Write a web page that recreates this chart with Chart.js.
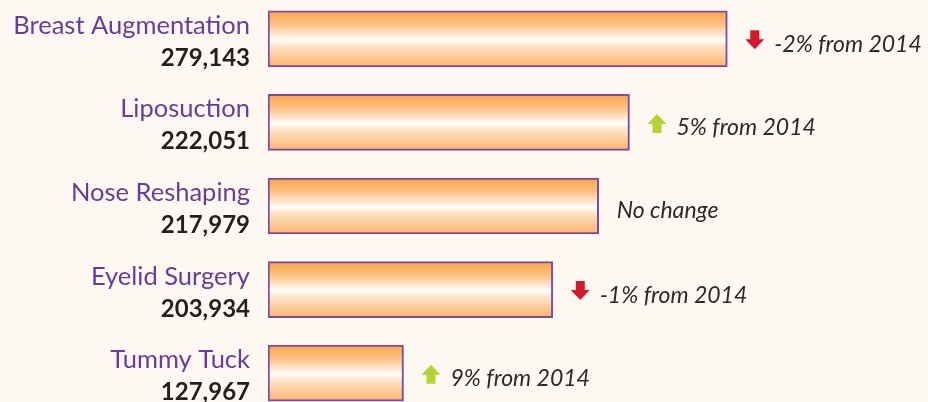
<!DOCTYPE html>
<html>
<head>
<meta charset="utf-8">
<script src="https://cdn.jsdelivr.net/npm/chart.js@4"></script>
<style>
  html, body { margin:0; padding:0; background:#fdf9f2; overflow:hidden; width:928px; height:402px; }
  #wrap { position:absolute; left:0; top:-3px; width:928px; height:418px; }
</style>
</head>
<body>
<div id="wrap"><canvas id="c" width="928" height="418"></canvas></div>
<script>
// ---- data ----
const categories = ['Breast Augmentation', 'Liposuction', 'Nose Reshaping', 'Eyelid Surgery', 'Tummy Tuck'];
const procedureCounts = [279143, 222051, 217979, 203934, 127967];
// bar lengths as drawn in the infographic (relative units, longest = 100)
const barLengths = [100, 78.7, 72.0, 62.0, 29.5];
// percent change from 2014
const changeFrom2014 = [-2, 5, 0, -1, 9];
const axisMax = 143.7;

// ---- styles ----
const BAR_T = 56;
const NAME_COLOR = '#6a3b98';
const COUNT_COLOR = '#231f20';
const TEXT_COLOR = '#2a2a2a';
const UP_COLOR = '#b4d335';
const DOWN_COLOR = '#d6182d';

function makeGradient(ctx, yc) {
  const g = ctx.createLinearGradient(0, yc - BAR_T / 2, 0, yc + BAR_T / 2);
  g.addColorStop(0, '#fba446');
  g.addColorStop(0.25, '#fcc285');
  g.addColorStop(0.44, '#feebd8');
  g.addColorStop(0.52, '#fffefb');
  g.addColorStop(0.62, '#fee6cc');
  g.addColorStop(0.85, '#fdc68e');
  g.addColorStop(1, '#fcb46b');
  return g;
}

// scriptable so that each bar gets its own options object
function barFill(c) {
  return '#fca54a';
}

const gradientPlugin = {
  id: 'gradientBars',
  beforeDatasetsDraw(chart) {
    const meta = chart.getDatasetMeta(0);
    meta.data.forEach(el => {
      if (isFinite(el.y)) el.options.backgroundColor = makeGradient(chart.ctx, el.y);
    });
  }
};

function drawArrow(ctx, x, yc, up, color) {
  const w = 19, h = 19, sw = 9, headH = 10;
  const top = yc - h / 2, bot = yc + h / 2, cx = x + w / 2;
  ctx.save();
  ctx.fillStyle = color;
  ctx.beginPath();
  if (up) {
    ctx.moveTo(cx, top);
    ctx.lineTo(x + w, top + headH);
    ctx.lineTo(cx + sw / 2, top + headH);
    ctx.lineTo(cx + sw / 2, bot);
    ctx.lineTo(cx - sw / 2, bot);
    ctx.lineTo(cx - sw / 2, top + headH);
    ctx.lineTo(x, top + headH);
  } else {
    ctx.moveTo(cx, bot);
    ctx.lineTo(x + w, bot - headH);
    ctx.lineTo(cx + sw / 2, bot - headH);
    ctx.lineTo(cx + sw / 2, top);
    ctx.lineTo(cx - sw / 2, top);
    ctx.lineTo(cx - sw / 2, bot - headH);
    ctx.lineTo(x, bot - headH);
  }
  ctx.closePath();
  ctx.fill();
  ctx.restore();
}

const labelsPlugin = {
  id: 'labels',
  afterDatasetsDraw(chart) {
    const ctx = chart.ctx;
    const meta = chart.getDatasetMeta(0);
    const labelX = 250;
    meta.data.forEach((el, i) => {
      const y = el.y;
      ctx.save();
      ctx.textAlign = 'right';
      ctx.textBaseline = 'alphabetic';
      ctx.fillStyle = NAME_COLOR;
      ctx.font = '25.5px Lato';
      ctx.fillText(categories[i], labelX, y - 5);
      ctx.fillStyle = COUNT_COLOR;
      ctx.font = 'bold 24px Lato';
      ctx.fillText(procedureCounts[i].toLocaleString('en-US'), labelX, y + 27);

      const xEnd = el.x;
      const ch = changeFrom2014[i];
      ctx.textAlign = 'left';
      ctx.fillStyle = TEXT_COLOR;
      ctx.font = 'italic 23px Lato';
      if (ch === 0) {
        ctx.fillText('No change', xEnd + 18, y + 12);
      } else {
        drawArrow(ctx, xEnd + 18, y + 1, ch > 0, ch > 0 ? UP_COLOR : DOWN_COLOR);
        ctx.fillText(ch + '% from 2014', xEnd + 18 + 19 + 10, y + 13);
      }
      ctx.restore();
    });
  }
};

new Chart(document.getElementById('c'), {
  type: 'bar',
  data: {
    labels: categories,
    datasets: [{
      data: barLengths,
      backgroundColor: barFill,
      borderColor: '#7b4b9c',
      borderWidth: 2,
      borderSkipped: false,
      barThickness: BAR_T
    }]
  },
  options: {
    indexAxis: 'y',
    responsive: false,
    devicePixelRatio: 1,
    animation: false,
    layout: { padding: { left: 268, right: 0, top: 0, bottom: 0 } },
    plugins: { legend: { display: false }, tooltip: { enabled: false } },
    scales: {
      x: { display: false, min: 0, max: axisMax, grid: { display: false } },
      y: { display: false, grid: { display: false } }
    }
  },
  plugins: [gradientPlugin, labelsPlugin]
});
</script>
</body>
</html>
